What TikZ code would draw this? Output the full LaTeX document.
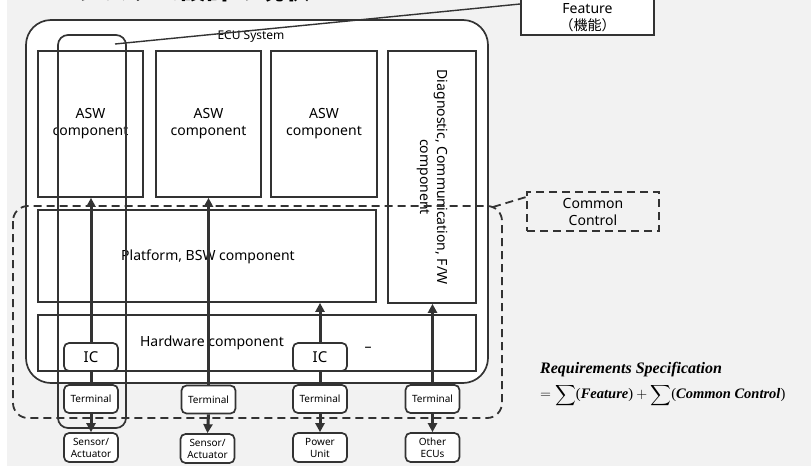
\documentclass[tikz,border=0pt]{standalone}
\usepackage{amsmath}
\usepackage{fontspec}
\setmainfont{Noto Sans}
\newfontfamily\jp{Noto Sans CJK JP}
\newfontfamily\fser{Liberation Serif}
\usetikzlibrary{arrows.meta}
\pgfdeclarelayer{back}
\pgfdeclarelayer{lines}
\pgfsetlayers{back,lines,main}
\definecolor{bggray}{HTML}{F2F2F2}
\definecolor{ink}{HTML}{333333}
\begin{document}
\begin{tikzpicture}[x=1pt,y=-1pt,
  box/.style={draw=ink, line width=1.7pt, fill=white, inner sep=0pt, align=center,
    font=\fontsize{14}{17}\selectfont},
  rbox/.style={box, rounded corners=5pt},
  smallbox/.style={rbox, minimum width=54pt, minimum height=28pt, font=\fontsize{10}{12}\selectfont},
  icbox/.style={rbox, minimum width=54pt, minimum height=28pt, font=\fontsize{15}{17}\selectfont},
  arr/.style={line width=3pt, draw=ink, -{Triangle[length=9pt,width=9pt]}},
  dashline/.style={draw=ink, line width=1.8pt, dash pattern=on 8pt off 5pt},
]
\useasboundingbox (0,0) rectangle (811,472);
\clip (0,0) rectangle (811,472);
\begin{pgfonlayer}{back}
  \fill[white] (0,0) rectangle (811,472);
  \fill[bggray] (7,0) rectangle (811,466);
  \draw[draw=ink, line width=1.7pt, fill=white, rounded corners=25pt] (26,20) rectangle (488,383);
  \node[box, minimum width=105pt, minimum height=146pt] (asw1) at (90.5,124) {ASW\\component};
  \node[box, minimum width=105pt, minimum height=146pt] (asw2) at (208.5,124) {ASW\\component};
  \node[box, minimum width=106pt, minimum height=146pt] (asw3) at (324,124) {ASW\\component};
  \node[box, minimum width=252pt, minimum height=88pt, rotate=-90] (diag) at (432,177) {Diagnostic, Communication, F/W\\component};
  \node[box, minimum width=338pt, minimum height=92pt] (plat) at (207,256) {};
  \node[font=\fontsize{14}{17}\selectfont] (platlbl) at (208,257) {Platform, BSW component};
  \node[box, minimum width=438pt, minimum height=56pt] (hw) at (257,343) {};
  \node[font=\fontsize{14}{17}\selectfont] (hwlbl) at (212,343) {Hardware component};
  \node[font=\fontsize{14}{17}\selectfont] (hwdash) at (368,349) {–};
\end{pgfonlayer}

\node[font=\fontsize{12}{14}\selectfont] (ecu) at (251,37) {ECU System};

% IC, terminals, devices
\node[icbox] (ic1) at (91,357) {IC};
\node[icbox] (ic2) at (320,357) {IC};
\node[smallbox] (t1) at (91,399) {Terminal};
\node[smallbox] (t2) at (208.5,399.5) {Terminal};
\node[smallbox] (t3) at (320,399) {Terminal};
\node[smallbox] (t4) at (432.5,399) {Terminal};
\node[smallbox, minimum height=29pt] (s1) at (91,447.5) {Sensor/\\Actuator};
\node[smallbox, minimum height=29pt] (s2) at (207.5,448.5) {Sensor/\\Actuator};
\node[smallbox, minimum height=29pt] (pu) at (320,447.5) {Power\\Unit};
\node[smallbox, minimum height=29pt] (oe) at (432.5,447.5) {Other\\ECUs};

\begin{pgfonlayer}{lines}
  \draw[arr] (t1.north) -- (t1.north |- asw1.south);
  \draw[arr] (t1.south) -- (s1.north);
  \draw[arr] (t2.north) -- (t2.north |- asw2.south);
  \draw[arr] (t2.south) -- (s2.north);
  \draw[arr] (t3.north) -- (t3.north |- plat.south);
  \draw[arr] (t3.south) -- (pu.north);
  \draw[arr] (t4.north) -- (t4.north |- diag.east);
  \draw[arr] (t4.south) -- (oe.north);
\end{pgfonlayer}

% Feature outline and label
\draw[draw=ink, line width=1.7pt, rounded corners=10pt] (58,35) rectangle (126,428);
\node[box, minimum width=133pt, minimum height=60pt] (feat) at (587.5,5) {};
\node[align=center, inner sep=0pt, font=\fontsize{14}{17}\selectfont] (featlbl) at (587.5,17.5) {Feature\\{\jp（機能）}};
\coordinate (fa) at (115,44);
\draw[draw=ink, line width=1.4pt] (fa) -- (feat.west |- 0,4);

% Common control outline and label
\draw[dashline, rounded corners=15pt] (13,206) rectangle (502,418);
\node[draw=ink, line width=1.8pt, dash pattern=on 8pt off 5pt, minimum width=132pt, minimum height=39pt,
  inner sep=0pt, align=center, font=\fontsize{14}{17}\selectfont] (cc) at (593,211.5) {Common\\Control};
\coordinate (cca) at (493,207);
\draw[dashline] (cca) -- (cc.west |- 0,197);

% Title (cut off at the top, as in the source)
\node[anchor=base west, inner sep=0pt, font=\jp\bfseries\fontsize{26}{30}\selectfont] (title) at (24,-0.5) {ECUシステム設計の現状};

% Formula
\node[anchor=north west, align=left, inner sep=0pt, font=\fser\fontsize{14.5}{17}\selectfont] (req) at (540,362)
  {{\bfseries\itshape\fontsize{16}{19}\selectfont Requirements Specification}\\[6pt]
   $=\displaystyle\sum$(\textbf{\textit{Feature}})${}+\displaystyle\sum$(\textbf{\textit{Common Control}})};
\end{tikzpicture}
\end{document}
